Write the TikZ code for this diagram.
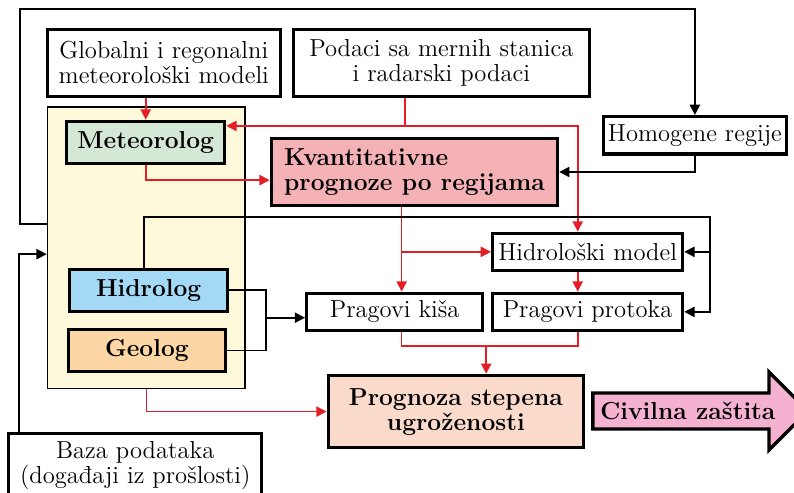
\documentclass[tikz,border=0pt]{standalone}
\usepackage{tikz}
\usetikzlibrary{arrows.meta,positioning,calc}
\definecolor{lineR}{RGB}{228,30,38}
\definecolor{grpY}{RGB}{255,249,219}
\definecolor{metG}{RGB}{213,232,213}
\definecolor{kvaP}{RGB}{244,177,182}
\definecolor{hidB}{RGB}{164,217,245}
\definecolor{geoO}{RGB}{252,214,165}
\definecolor{proS}{RGB}{250,218,203}
\definecolor{civP}{RGB}{245,178,208}

\begin{document}
\begin{tikzpicture}[
  box/.style={draw=black, ultra thick, fill=white, align=center, inner sep=1pt, font=\fontsize{12}{12.2}\selectfont},
  bbox/.style={box, font=\fontsize{12}{12.2}\selectfont\bfseries},
  ulog/.style={bbox, minimum width=2.71cm, minimum height=0.72cm},
  grp/.style={draw=black, thick, fill=grpY, minimum width=3.39cm, minimum height=4.83cm},
  arr/.style={-{Triangle[length=5pt,width=5pt]}, thick, black},
  rarr/.style={arr, lineR},
  rline/.style={thick, lineR},
  bline/.style={thick, black}
]
  \clip (0,0) rectangle (13.62,-8.44);

  % sources (top row)
  \node[box, minimum width=4.0cm, minimum height=1.15cm] (glob) at (2.81,-1.08) {Globalni i regonalni\\meteorološki modeli};
  \node[box, minimum width=5.08cm, minimum height=1.15cm] (podaci) at (7.57,-1.08) {Podaci sa mernih stanica\\i radarski podaci};

  % experts (left group)
  \node[grp] (grupa) at (2.51,-4.25) {};
  \node[ulog, fill=metG] (meteo) at (2.50,-2.44) {Meteorolog};
  \node[ulog, fill=hidB] (hidro) at (2.55,-4.98) {Hidrolog};
  \node[ulog, fill=geoO, minimum width=2.69cm] (geo) at (2.52,-6.01) {Geolog};

  % forecasting (middle and right)
  \node[bbox, fill=kvaP, align=left, minimum width=4.91cm, minimum height=1.15cm] (kvant) at (7.11,-2.95) {Kvantitativne\\prognoze po regijama};
  \node[box, minimum width=3.14cm, minimum height=0.64cm] (homog) at (11.92,-2.32) {Homogene regije};
  \node[box, minimum width=3.26cm, minimum height=0.64cm] (hmodel) at (10.08,-4.32) {Hidrološki model};
  \node[box, minimum width=3.26cm, minimum height=0.64cm] (pprot) at (10.08,-5.35) {Pragovi protoka};
  \node[box, minimum width=3.02cm, minimum height=0.64cm] (pkisa) at (6.77,-5.35) {Pragovi kiša};
  \node[bbox, fill=proS, minimum width=4.38cm, minimum height=1.24cm] (progn) at (7.82,-7.06) {Prognoza stepena\\ugroženosti};
  \node[box, minimum width=4.34cm, minimum height=1.12cm] (baza) at (2.32,-7.99) {Baza podataka\\(događaji iz prošlosti)};

  % civil protection arrow
  \draw[ultra thick, fill=civP] (10.17,-6.74) -- (13.19,-6.74) -- (13.19,-6.38) -- (13.86,-7.05)
    -- (13.19,-7.72) -- (13.19,-7.36) -- (10.17,-7.36) -- cycle;
  \node[font=\fontsize{12}{12.2}\selectfont\bfseries] (civ) at (11.80,-7.05) {Civilna zaštita};

  % helper points
  \coordinate (pd) at (6.95,-2.16);
  \coordinate (kx) at (6.89,-4.32);
  \coordinate (hx) at (9.91,-5.93);
  \coordinate (pm) at (8.34,-5.93);
  \coordinate (hk) at (12.18,-3.72);
  \coordinate (hg) at (4.56,-5.45);
  \coordinate (fb) at (0.34,-3.84);
  \coordinate (bz) at (0.33,-4.36);

  % red flow
  \draw[rarr] (meteo.north |- glob.south) -- (meteo.north);
  \draw[rline] (podaci.south -| pd) -- (pd);
  \draw[rarr] (pd) -- (meteo.east |- pd);
  \draw[rarr] (pd) -| (hmodel.north -| hx);
  \draw[rarr] (meteo.south) |- ($(kvant.west)+(0,-0.14)$);
  \draw[rarr] (kvant.south -| kx) -- (pkisa.north -| kx);
  \draw[rarr] (hmodel.west -| kx) -- (hmodel.west);
  \draw[rarr] (hmodel.south -| hx) -- (pprot.north -| hx);
  \draw[rline] (pkisa.south -| kx) |- (hx) -- (pprot.south -| hx);
  \draw[rarr] (pm) -- (progn.north -| pm);
  \draw[rarr] (grupa.south) |- (progn.west);

  % black flow
  \draw[arr] (homog.south) |- (kvant.east);
  \draw[arr] ($(hidro.north)+(-0.08,0)$) |- (hk) |- (pprot.east);
  \draw[arr] (hk |- hmodel.east) -- (hmodel.east);
  \draw[bline] (hidro.east) -| (hg);
  \draw[bline] (geo.east) -| (hg);
  \draw[arr] (hg) -- (pkisa.west |- hg);
  \draw[arr] (baza.north -| bz) |- (grupa.west |- bz);
  \draw[arr] (grupa.west |- fb) -- (fb) |- (0.34,-0.15) -| (homog.north);
\end{tikzpicture}
\end{document}
